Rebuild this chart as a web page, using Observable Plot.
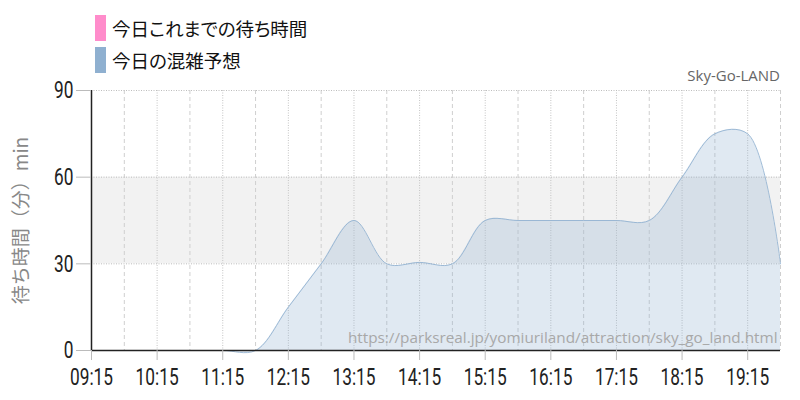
<!DOCTYPE html>
<html>
<head>
<meta charset="utf-8">
<script src="https://cdn.jsdelivr.net/npm/d3@7"></script>
<script src="https://cdn.jsdelivr.net/npm/@observablehq/plot@0.6"></script>
<style>
  body { margin: 0; background: #fff; }
  #wrap { position: relative; width: 800px; height: 400px; overflow: hidden; }
  #legend { position: absolute; left: 0; top: 0; width: 800px; height: 80px; }
  .item { position: absolute; left: 95px; display: flex; align-items: center; font-family: "Noto Sans CJK JP", sans-serif; font-size: 18.5px; color: #111; font-feature-settings: "palt"; }
  .sw { width: 11px; height: 26px; margin-right: 6px; }
  #credit { position: absolute; right: 20px; top: 65px; font-family: "Open Sans", sans-serif; font-size: 15px; color: #666; }
  #chart { position: absolute; left: 0; top: 70px; }
  #chart svg { background: transparent; overflow: visible; }
</style>
</head>
<body>
<div id="wrap">
  <div id="chart"></div>
  <div id="legend"></div>
  <div id="credit"></div>
</div>
<script>
// ---- data ----
const seriesNames = ["今日これまでの待ち時間", "今日の混雑予想"];
const seriesColors = ["#ff8ccb", "#8fb0d0"];
const times = ["09:15","09:45","10:15","10:45","11:15","11:45","12:15","12:45","13:15","13:45","14:15",
               "14:45","15:15","15:45","16:15","16:45","17:15","17:45","18:15","18:45","19:15","19:45"];
const forecast = [0,0,0,0,0,0,15,30,45,30,30.5,30,45,45,45,45,45,45,60,75,75,30];
const actualTimes = [];   // 今日これまでの待ち時間 (no data recorded)
const actualValues = [];
const xTicks = ["09:15","10:15","11:15","12:15","13:15","14:15","15:15","16:15","17:15","18:15","19:15"];
const yTicks = [0, 30, 60, 90];
const bandRange = [30, 60];
const yLabel = "待ち時間（分）min";
const creditText = "Sky-Go-LAND";
const urlText = "https://parksreal.jp/yomiuriland/attraction/sky_go_land.html";

// ---- helpers ----
const toMin = s => { const [h, m] = s.split(":").map(Number); return h * 60 + m; };
const fmt = m => String(Math.floor(m / 60)).padStart(2, "0") + ":" + String(m % 60).padStart(2, "0");
const forecastData = times.map((t, i) => ({x: toMin(t), y: forecast[i]}));
const actualData = actualTimes.map((t, i) => ({x: toMin(t), y: actualValues[i]}));
const tickMins = xTicks.map(toMin);
const gridMins = times.map(toMin).slice(1);
const dashedGrid = gridMins.filter(m => !tickMins.includes(m));
const dottedGrid = gridMins.filter(m => tickMins.includes(m));
const xDomain = [toMin(times[0]), toMin(times[times.length - 1])];

// ---- legend ----
const legend = document.getElementById("legend");
seriesNames.forEach((name, i) => {
  const item = document.createElement("div");
  item.className = "item";
  item.style.top = (15 + i * 32) + "px";
  item.innerHTML = `<span class="sw" style="background:${seriesColors[i]}"></span><span>${name}</span>`;
  legend.appendChild(item);
});
document.getElementById("credit").textContent = creditText;

const tickFont = 'Roboto, sans-serif';

const chart = Plot.plot({
  width: 800,
  height: 330,
  marginTop: 20,
  marginLeft: 91,
  marginRight: 20,
  marginBottom: 50,
  x: {domain: xDomain},
  y: {domain: [0, 90]},
  marks: [
    Plot.rectY([bandRange], {y1: d => d[0], y2: d => d[1], fill: "#f2f2f2"}),
    Plot.ruleX(dashedGrid, {stroke: "#cfcfcf", strokeDasharray: "4,3"}),
    Plot.ruleX(dottedGrid, {stroke: "#c4c4c4", strokeDasharray: "1,1.5"}),
    Plot.ruleY(yTicks.filter(v => v > 0), {stroke: "#bdbdbd", strokeDasharray: "1,1.5"}),
    Plot.areaY(forecastData, {x: "x", y: "y", curve: "catmull-rom", fill: seriesColors[1], fillOpacity: 0.28}),
    Plot.lineY(forecastData, {x: "x", y: "y", curve: "catmull-rom", stroke: seriesColors[1], strokeWidth: 1, strokeOpacity: 0.85}),
    Plot.lineY(actualData, {x: "x", y: "y", curve: "catmull-rom", stroke: seriesColors[0], strokeWidth: 2}),
    Plot.ruleX([xDomain[0]], {stroke: "#222", strokeWidth: 1.5}),
    Plot.ruleY([0], {stroke: "#222", strokeWidth: 1.5}),
    Plot.axisY({ticks: yTicks, tickSize: 15, tickPadding: 3, stroke: "#bbb", fill: "#222",
                fontSize: 24, fontFamily: tickFont, label: null}),
    Plot.axisX({ticks: tickMins, tickFormat: fmt, tickSize: 10, tickPadding: 7, stroke: "#bbb", fill: "#222",
                fontSize: 24, fontFamily: tickFont, label: null}),
    Plot.text([urlText], {frameAnchor: "bottom-right", dx: -3, dy: -8, textAnchor: "end", lineAnchor: "bottom",
                          fill: "#a8a8a8", fontSize: 15.3, fontFamily: "Open Sans, sans-serif"}),
    Plot.text([yLabel], {frameAnchor: "left", dx: -70, rotate: -90, textAnchor: "middle", fill: "#888", fontSize: 19,
                         fontFamily: '"Noto Sans CJK JP", sans-serif'})
  ]
});
// condense the tick labels horizontally (narrow numeric face)
chart.querySelectorAll('g[aria-label="x-axis tick label"] text, g[aria-label="y-axis tick label"] text').forEach(t => {
  const tr = t.getAttribute("transform") || "";
  t.setAttribute("transform", tr + " scale(0.72,1)");
});
document.getElementById("chart").appendChild(chart);
</script>
</body>
</html>
